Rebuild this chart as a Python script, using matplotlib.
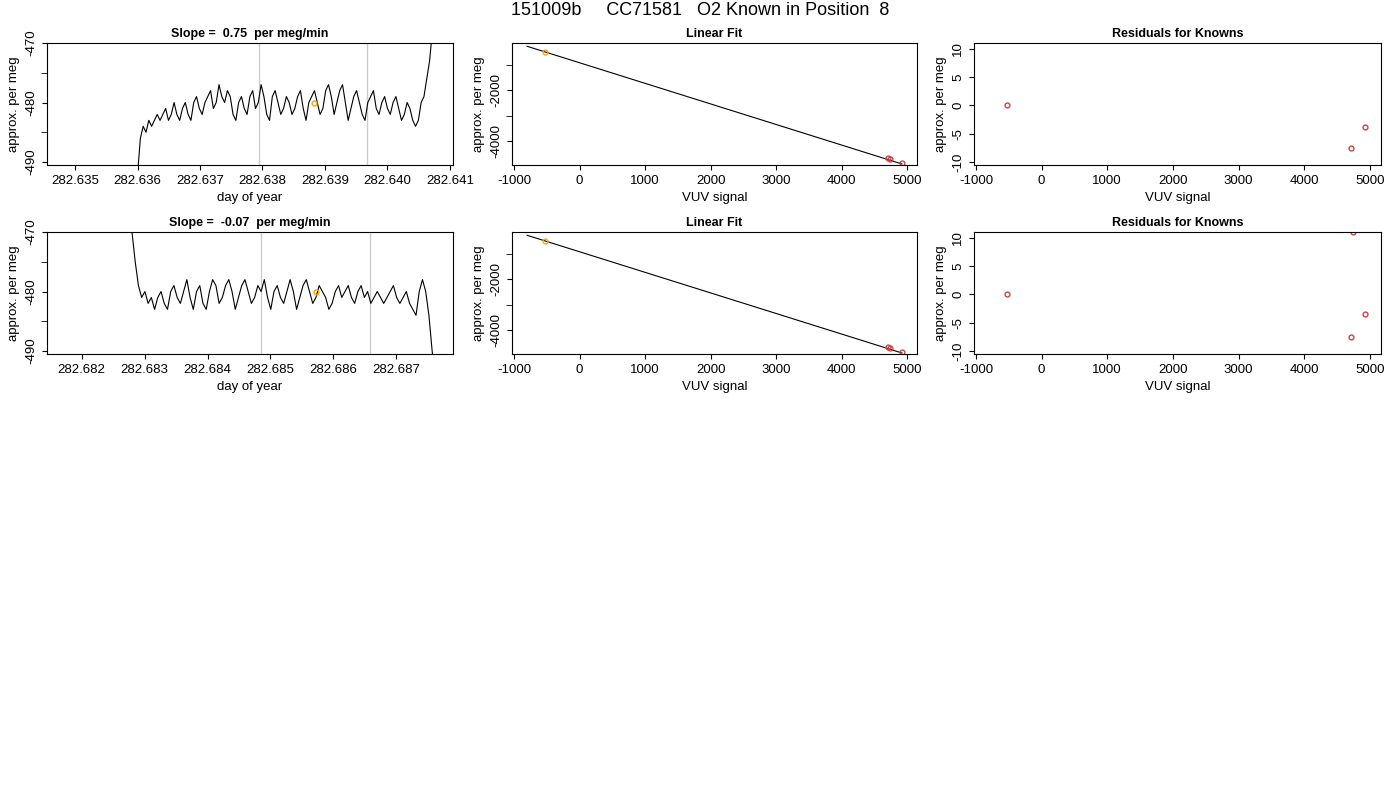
import numpy as np
import matplotlib.pyplot as plt

plt.rcParams['font.family'] = ['Liberation Sans', 'DejaVu Sans']
plt.rcParams['font.size'] = 9.5
plt.rcParams['axes.unicode_minus'] = False

title = "151009b     CC71581   O2 Known in Position  8"
slopes = ["0.75", "-0.07"]

# time series (day of year, approx per meg)
t1_start, t1_end = 282.63600, 282.64072
y1 = [-492, -486, -484, -485, -483, -484, -483, -482, -483, -482, -481, -483, -482, -480, -482, -483,
      -481, -480, -482, -483, -480, -479, -481, -482, -480, -479, -478, -481, -480, -477, -479, -480,
      -478, -479, -482, -483, -480, -479, -481, -482, -479, -478, -481, -480, -477, -479, -482, -483,
      -479, -478, -480, -482, -481, -479, -480, -482, -481, -479, -478, -481, -483, -480, -479, -478,
      -480, -482, -481, -478, -477, -479, -482, -480, -478, -477, -480, -483, -481, -479, -478, -480,
      -482, -483, -480, -479, -478, -481, -482, -480, -479, -481, -482, -480, -479, -481, -483, -482,
      -480, -481, -483, -484, -483, -480, -479, -476, -473, -468]
t2_start, t2_end = 282.68280, 282.68762
y2 = [-470, -475, -479, -481, -480, -482, -481, -483, -481, -480, -482, -483, -480, -479, -481, -482,
      -480, -478, -481, -483, -480, -479, -482, -483, -480, -478, -479, -482, -481, -479, -478, -480,
      -483, -481, -479, -478, -480, -482, -481, -479, -480, -478, -481, -483, -480, -479, -481, -482,
      -480, -478, -480, -483, -481, -479, -478, -480, -482, -481, -479, -480, -481, -483, -482, -480,
      -479, -481, -480, -479, -481, -482, -480, -479, -481, -480, -482, -481, -480, -481, -482, -481,
      -480, -479, -481, -482, -481, -480, -482, -483, -484, -480, -478, -480, -484, -490, -495]
vlines1 = [282.63795, 282.63967]
vlines2 = [282.68485, 282.68658]
mark1 = (282.63882, -480.0)
mark2 = (282.68572, -480.0)

# linear fit
vuv_known = [4710, 4740, 4920]
pm_known = [-4680, -4710, -4880]
vuv_sample = -520
pm_sample = -480
fit_x = [-800, 4920]
fit_y = [-250, -4920]
resid_known_1 = [-7.5, 12.0, -3.8]
resid_known_2 = [-7.5, 11.0, -3.5]
resid_sample = 0.0

fig = plt.figure(figsize=(14, 8), dpi=100)
fig.text(0.5, 0.997, title, ha='center', va='top', fontsize=13)

lefts = [47, 512, 974]
widths = [406, 405, 407]
tops = [43, 232]
H = 122

def mkax(c, r):
    return fig.add_axes([lefts[c] / 1400, 1 - (tops[r] + H) / 800, widths[c] / 1400, H / 800])

series = [(t1_start, t1_end, y1, vlines1, mark1, resid_known_1, (282.63455, 282.64105)),
          (t2_start, t2_end, y2, vlines2, mark2, resid_known_2, (282.68145, 282.68790))]

for r, (ts, te, yy, vl, mk, res, xl) in enumerate(series):
    ax = mkax(0, r)
    tt = np.linspace(ts, te, len(yy))
    for v in vl:
        ax.axvline(v, color='#cccccc', lw=1)
    ax.plot(tt, yy, color='black', lw=0.8)
    ax.plot(*mk, 'o', mfc='none', mec='orange', ms=3.5)
    ax.set_xlim(*xl)
    ax.set_ylim(-490.5, -470.5)
    ax.set_yticks([-490, -480, -470])
    ax.set_yticks([-485, -475], minor=True)
    ax.tick_params(axis='y', which='minor', length=4)
    xt = np.round(np.arange(np.ceil(xl[0] * 1000), xl[1] * 1000 + 1e-6) / 1000, 3)
    ax.set_xticks(xt)
    ax.set_xticklabels([f"{v:.3f}" for v in xt])
    ax.set_xlabel("day of year")
    ax.set_ylabel("approx. per meg")
    ax.set_title(f"Slope =  {slopes[r]}  per meg/min", fontweight='bold', fontsize=9, pad=4)
    for lab in ax.get_yticklabels():
        lab.set_rotation(90); lab.set_va('center')

    ax = mkax(1, r)
    ax.plot(fit_x, fit_y, color='black', lw=0.8)
    ax.plot(vuv_known, pm_known, 'o', mfc='none', mec='#cc4444', ms=3.5)
    ax.plot(vuv_sample, pm_sample, 'o', mfc='none', mec='orange', ms=3.5)
    ax.set_xlim(-1030, 5150)
    ax.set_ylim(-4960, -120)
    ax.set_yticks([-4000, -2000])
    ax.set_yticks([-3000, -1000], minor=True)
    ax.tick_params(axis='y', which='minor', length=4)
    ax.set_xlabel("VUV signal")
    ax.set_ylabel("approx. per meg")
    ax.set_title("Linear Fit", fontweight='bold', fontsize=9, pad=4)
    for lab in ax.get_yticklabels():
        lab.set_rotation(90); lab.set_va('center')

    ax = mkax(2, r)
    ax.plot(vuv_known, res, 'o', mfc='none', mec='#cc4444', ms=3.5, clip_on=True)
    ax.plot(vuv_sample, resid_sample, 'o', mfc='none', mec='#cc4444', ms=3.5)
    ax.set_xlim(-1030, 5170)
    ax.set_ylim(-10.5, 11.0)
    ax.set_yticks([-10, -5, 0, 5, 10])
    ax.set_xlabel("VUV signal")
    ax.set_ylabel("approx. per meg")
    ax.set_title("Residuals for Knowns", fontweight='bold', fontsize=9, pad=4)
    for lab in ax.get_yticklabels():
        lab.set_rotation(90); lab.set_va('center')

fig.savefig("out.png", dpi=100)
